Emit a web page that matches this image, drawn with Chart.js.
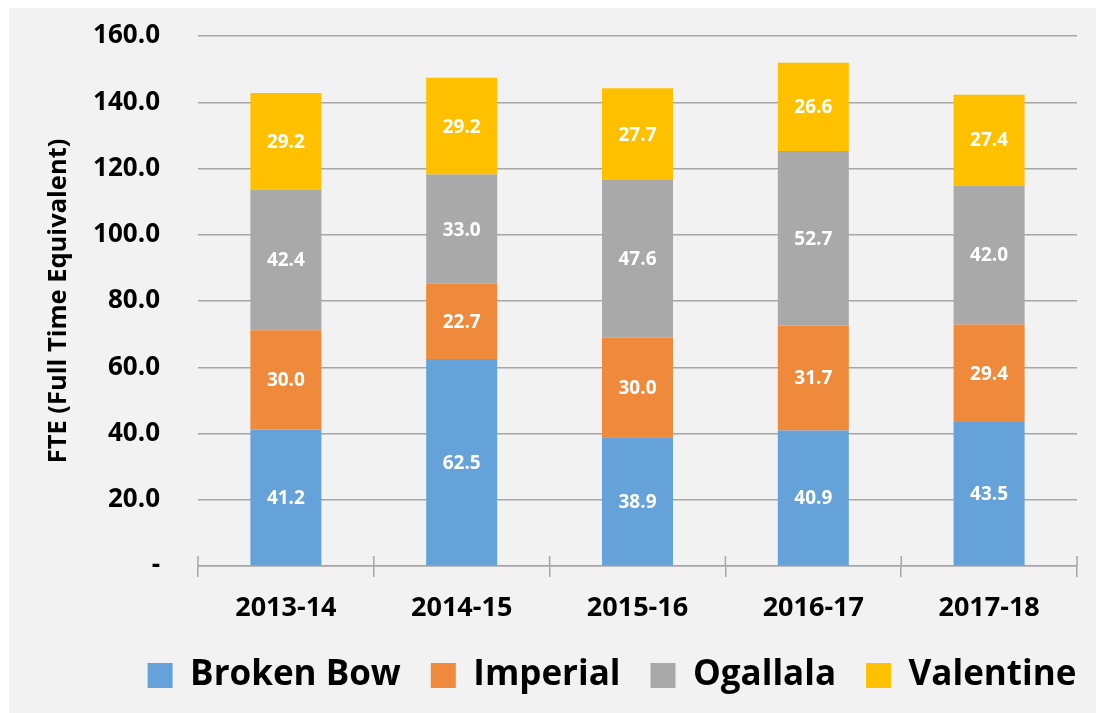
<!DOCTYPE html>
<html><head><meta charset="utf-8">
<script src="https://cdn.jsdelivr.net/npm/chart.js@4.4.1/dist/chart.umd.min.js"></script>
<style>
html,body{margin:0;padding:0;background:#fff;}
#wrap{position:absolute;left:9px;top:8px;width:1087px;height:705px;background:#f2f2f2;}
canvas{display:block;}
</style></head><body>
<div id="wrap"><canvas id="c" width="1087" height="705"></canvas></div>
<script>
const categories = ['2013-14', '2014-15', '2015-16', '2016-17', '2017-18'];
const seriesNames = ['Broken Bow', 'Imperial', 'Ogallala', 'Valentine'];
const brokenBow = [41.2, 62.5, 38.9, 40.9, 43.5];
const imperial = [30.0, 22.7, 30.0, 31.7, 29.4];
const ogallala = [42.4, 33.0, 47.6, 52.7, 42.0];
const valentine = [29.2, 29.2, 27.7, 26.6, 27.4];
const yTickValues = [0, 20, 40, 60, 80, 100, 120, 140, 160];
const yTitle = 'FTE (Full Time Equivalent)';

const colors = ['#64a2d9', '#ef8a3c', '#a9a9a9', '#ffc000'];
const FONT = "'Open Sans', 'DejaVu Sans', sans-serif";
const GRID = '#a6a6a6';

const valueLabels = {
  id: 'valueLabels',
  afterDatasetsDraw(chart) {
    const ctx = chart.ctx;
    ctx.save();
    ctx.fillStyle = '#ffffff';
    ctx.font = 'bold 19px ' + FONT;
    ctx.textAlign = 'center';
    ctx.textBaseline = 'middle';
    chart.data.datasets.forEach((ds, i) => {
      const meta = chart.getDatasetMeta(i);
      meta.data.forEach((bar, j) => {
        const v = ds.data[j];
        const yc = (bar.y + bar.base) / 2;
        ctx.fillText(v.toFixed(1), bar.x, yc + 1);
      });
    });
    ctx.restore();
  }
};

const upTicks = {
  id: 'upTicks',
  afterDraw(chart) {
    const xs = chart.scales.x;
    const ys = chart.scales.y;
    const ctx = chart.ctx;
    const y0 = ys.getPixelForValue(0);
    const n = categories.length;
    ctx.save();
    ctx.strokeStyle = GRID;
    ctx.lineWidth = 1.5;
    for (let i = 0; i <= n; i++) {
      const x = xs.left + i * xs.width / n;
      ctx.beginPath();
      ctx.moveTo(x, y0 - 10);
      ctx.lineTo(x, y0);
      ctx.stroke();
    }
    ctx.restore();
  }
};

const legendShift = {
  id: 'legendShift',
  afterLayout(chart) {
    const lg = chart.legend;
    if (!lg || !lg.lineWidths) return;
    const pad = lg.options.labels.padding;
    const lw = lg.lineWidths[0];
    const defStart = (lg.left + pad + lg.right - lw) / 2;
    const wantStart = 603 - (lw - pad) / 2;
    const dx = wantStart - defStart;
    lg.left += dx;
    lg.right += dx;
  }
};

new Chart(document.getElementById('c'), {
  type: 'bar',
  data: {
    labels: categories,
    datasets: [
      { label: seriesNames[0], data: brokenBow, backgroundColor: colors[0] },
      { label: seriesNames[1], data: imperial, backgroundColor: colors[1] },
      { label: seriesNames[2], data: ogallala, backgroundColor: colors[2] },
      { label: seriesNames[3], data: valentine, backgroundColor: colors[3] }
    ]
  },
  options: {
    responsive: false,
    animation: false,
    layout: { padding: { left: 0, right: 19, top: 28, bottom: 10 } },
    datasets: { bar: { barPercentage: 0.404, categoryPercentage: 1.0 } },
    plugins: {
      tooltip: { enabled: false },
      legend: {
        position: 'bottom',
        labels: {
          boxWidth: 25,
          boxHeight: 25,
          padding: 30,
          color: '#000',
          font: { family: FONT, size: 35, weight: 'bold' }
        }
      }
    },
    scales: {
      x: {
        stacked: true,
        afterFit(s) { s.height = 62; },
        grid: { display: true, offset: true, drawOnChartArea: false, drawTicks: true, tickLength: 11, color: GRID, lineWidth: 1.5 },
        border: { display: true, color: GRID, width: 1.5 },
        ticks: { color: '#000', padding: 15, font: { family: FONT, size: 27, weight: 'bold' } }
      },
      y: {
        stacked: true,
        min: 0,
        max: 160,
        afterFit(s) { s.width = 189; },
        afterBuildTicks(s) { s.ticks = yTickValues.map(v => ({ value: v })); },
        grid: { color: GRID, lineWidth: 1.5, drawTicks: true, tickLength: 38, tickColor: 'rgba(0,0,0,0)' },
        border: { display: false },
        ticks: {
          color: '#000',
          padding: 0,
          font: { family: FONT, size: 26, weight: 'bold' },
          callback: (v) => v === 0 ? '-' : Number(v).toFixed(1)
        },
        title: {
          display: true,
          text: yTitle,
          color: '#000',
          padding: { top: 34, bottom: 0 },
          font: { family: FONT, size: 25.5, weight: 'bold' }
        }
      }
    }
  },
  plugins: [valueLabels, upTicks, legendShift]
});
</script>
</body></html>
